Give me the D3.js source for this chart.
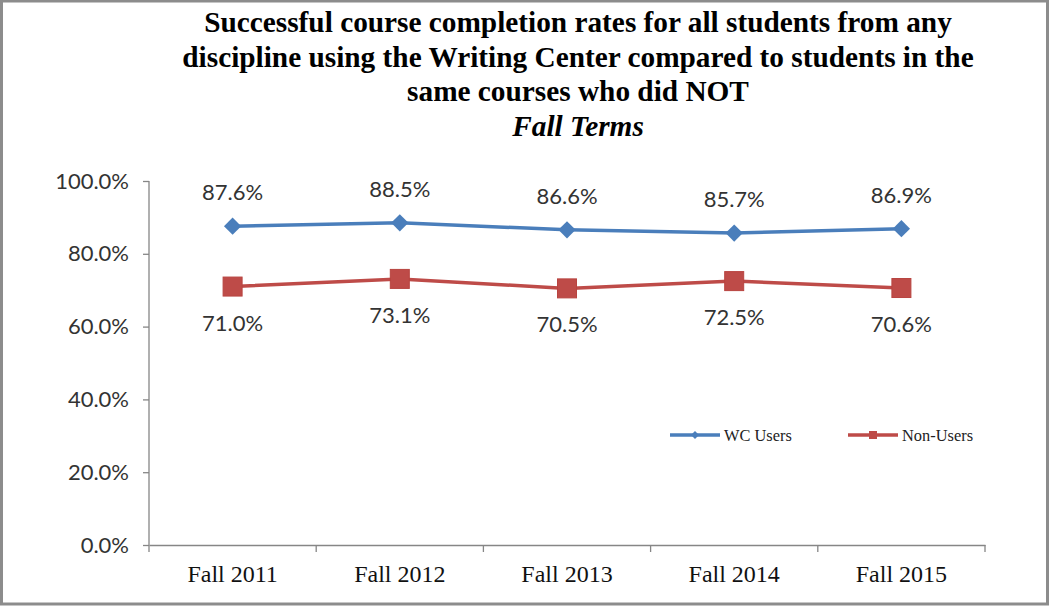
<!DOCTYPE html>
<html><head><meta charset="utf-8">
<script src="https://cdn.jsdelivr.net/npm/d3@7"></script>
<style>body{margin:0;background:#fff}svg{display:block}</style>
</head><body>
<svg id="c" width="1050" height="606"></svg>
<script>
const categories = ["Fall 2011","Fall 2012","Fall 2013","Fall 2014","Fall 2015"];
const wcUsers = [87.6, 88.5, 86.6, 85.7, 86.9];
const nonUsers = [71.0, 73.1, 70.5, 72.5, 70.6];
const yTicks = [0, 20, 40, 60, 80, 100];
const seriesNames = ["WC Users", "Non-Users"];
const titleLines = ["Successful course completion rates for all students from any",
  "discipline using the Writing Center compared to students in the",
  "same courses who did NOT"];
const subtitle = "Fall Terms";

const svg = d3.select("#c");
svg.append("rect").attr("x",1.5).attr("y",1).attr("width",1046).attr("height",603)
  .attr("fill","#fff").attr("stroke","#8c8c8c").attr("stroke-width",3);

const x = d3.scaleBand().domain(categories).range([149,985]);
const y = d3.scaleLinear().domain([0,100]).range([545,181]);

// title
const tg = svg.append("g").attr("font-family","'Liberation Serif', serif").attr("font-weight","bold")
  .attr("font-size",29.3).attr("fill","#000").attr("text-anchor","middle");
titleLines.forEach((t,i)=>tg.append("text").attr("x",578).attr("y",32+i*34.5).text(t));
tg.append("text").attr("x",578).attr("y",135.5).attr("font-style","italic").text(subtitle);

// y axis
const lf = "Lato, 'Open Sans', sans-serif";
const ya = svg.append("g").attr("transform","translate(149,0)")
  .call(d3.axisLeft(y).tickValues(yTicks).tickSize(6).tickFormat(d=>d.toFixed(1)+"%"));
ya.select(".domain").attr("stroke","#868686").attr("stroke-width",1.3).attr("d","M0,181V545");
ya.selectAll(".tick line").attr("stroke","#868686").attr("stroke-width",1.3);
ya.selectAll(".tick text").attr("font-family",lf).attr("font-size",22)
  .attr("fill","#333").attr("x",-20);

// x axis
const xa = svg.append("g").attr("transform","translate(0,545)")
  .call(d3.axisBottom(x).tickSize(0));
xa.select(".domain").attr("stroke","#868686").attr("stroke-width",1.3);
xa.selectAll(".tick text").attr("font-family","'Liberation Serif', serif").attr("font-size",24)
  .attr("fill","#111").attr("dy",0).attr("y",37);
const bounds = categories.map(c=>x(c)).concat([x.range()[1]]);
xa.selectAll(".bt").data(bounds).enter().append("line").attr("class","bt")
  .attr("x1",d=>d).attr("x2",d=>d).attr("y1",0).attr("y2",7)
  .attr("stroke","#868686").attr("stroke-width",1.3);

const cx = c => x(c) + x.bandwidth()/2;
const line = d3.line().x((d,i)=>cx(categories[i])).y(d=>y(d));
const blue = "#4a7ebb", red = "#be4b48";

svg.append("path").datum(wcUsers).attr("d",line).attr("fill","none").attr("stroke",blue).attr("stroke-width",3.5);
svg.append("path").datum(nonUsers).attr("d",line).attr("fill","none").attr("stroke",red).attr("stroke-width",3.5);

svg.selectAll(".dia").data(wcUsers).enter().append("path")
  .attr("d",d3.symbol().type(d3.symbolDiamond2).size(190))
  .attr("transform",(d,i)=>`translate(${cx(categories[i])},${y(d)})`).attr("fill",blue);
svg.selectAll(".sq").data(nonUsers).enter().append("rect")
  .attr("x",(d,i)=>cx(categories[i])-9.5).attr("y",d=>y(d)-9.5).attr("width",19).attr("height",19)
  .attr("fill",red).attr("stroke","#b84440").attr("stroke-width",1);

svg.selectAll(".lw").data(wcUsers).enter().append("text")
  .attr("x",(d,i)=>cx(categories[i])).attr("y",d=>y(d)-26).attr("text-anchor","middle")
  .attr("font-family",lf).attr("font-size",22).attr("fill","#333").text(d=>d.toFixed(1)+"%");
svg.selectAll(".ln").data(nonUsers).enter().append("text")
  .attr("x",(d,i)=>cx(categories[i])).attr("y",d=>y(d)+44).attr("text-anchor","middle")
  .attr("font-family",lf).attr("font-size",22).attr("fill","#333").text(d=>d.toFixed(1)+"%");

// legend
const leg = [{name:seriesNames[0],c:blue,x:670,sym:"d"},{name:seriesNames[1],c:red,x:848,sym:"s"}];
leg.forEach(l=>{
  const g = svg.append("g");
  g.append("line").attr("x1",l.x).attr("x2",l.x+50).attr("y1",435).attr("y2",435).attr("stroke",l.c).attr("stroke-width",3.5);
  if(l.sym==="d") g.append("path").attr("d",d3.symbol().type(d3.symbolDiamond2).size(40)).attr("transform",`translate(${l.x+25},435)`).attr("fill",l.c);
  else g.append("rect").attr("x",l.x+21).attr("y",431).attr("width",8).attr("height",8).attr("fill",l.c);
  g.append("text").attr("x",l.x+54).attr("y",440.5).attr("font-family","'Liberation Serif', serif")
    .attr("font-size",16.4).attr("fill","#222").text(l.name);
});
</script>
</body></html>
